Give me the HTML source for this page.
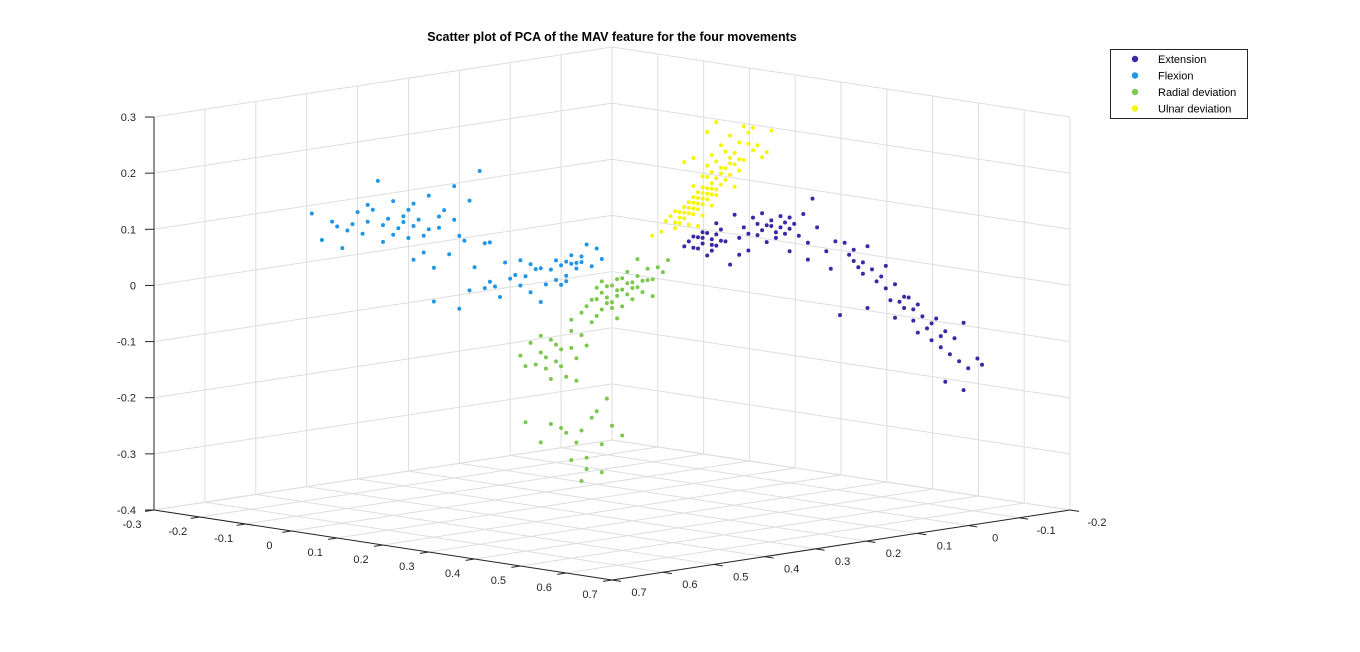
<!DOCTYPE html>
<html><head><meta charset="utf-8">
<style>
html,body{margin:0;padding:0;background:#fff;}
svg{display:block;font-family:"Liberation Sans",Arial,sans-serif;}
</style></head>
<body>
<svg id="chart" width="1360" height="652" viewBox="0 0 1360 652" xmlns="http://www.w3.org/2000/svg">
<rect width="1360" height="652" fill="#fff"/>
<text x="612" y="41" text-anchor="middle" font-size="12.5" font-weight="bold" fill="#000">Scatter plot of PCA of the MAV feature for the four movements</text>
<g id="grid"></g>
<g id="axes"></g>
<g id="points"></g>
<g>
<rect x="1110.5" y="49.5" width="137" height="69" fill="#fff" stroke="#262626" stroke-width="1"/>
<g><circle cx="1135" cy="59" r="3.2" fill="#3E26A8"/><text x="1158" y="63" font-size="11" fill="#000">Extension</text></g>
<g><circle cx="1135" cy="75.5" r="3.2" fill="#1F96E8"/><text x="1158" y="79.5" font-size="11" fill="#000">Flexion</text></g>
<g><circle cx="1135" cy="92" r="3.2" fill="#7CC84E"/><text x="1158" y="96" font-size="11" fill="#000">Radial deviation</text></g>
<g><circle cx="1135" cy="108.5" r="3.2" fill="#F5F50F"/><text x="1158" y="112.5" font-size="11" fill="#000">Ulnar deviation</text></g>
</g>
</svg>
<script>
// tick values
const aTicks = [-0.3,-0.2,-0.1,0,0.1,0.2,0.3,0.4,0.5,0.6,0.7];
const bTicks = [-0.2,-0.1,0,0.1,0.2,0.3,0.4,0.5,0.6,0.7];
const zTicks = [-0.4,-0.3,-0.2,-0.1,0,0.1,0.2,0.3];
const aTickLabels = ["-0.3","-0.2","-0.1","0","0.1","0.2","0.3","0.4","0.5","0.6","0.7"];
const bTickLabels = ["-0.2","-0.1","0","0.1","0.2","0.3","0.4","0.5","0.6","0.7"];
const zTickLabels = ["-0.4","-0.3","-0.2","-0.1","0","0.1","0.2","0.3"];
const seriesNames = ["Extension","Flexion","Radial deviation","Ulnar deviation"];

// data points: [pc1, pc2, pc3]
const extensionPoints = [
[0.08,0,0.02],[0.09,0,0.03],[0.10,0,0.02],[0.11,0,0.04],[0.12,0,0.03],[0.13,0,0.01],[0.14,0,0.04],[0.15,0,0.07],[0.15,0,0.03],[0.16,0,0.06],
[0.18,0,0.00],[0.19,0,0.09],[0.20,0,0.05],[0.21,0,0.07],[0.22,0,0.03],[0.23,0,0.09],[0.24,0,0.06],[0.25,0,0.10],[0.26,0,0.05],[0.27,0,0.08],
[0.29,0,0.10],[0.30,0,0.07],[0.31,0,0.04],[0.32,0,0.09],[0.33,0,0.07],[0.34,0,0.11],[0.35,0,0.03],[0.36,0,0.14],[0.37,0,0.09],[0.39,0,0.05],
[0.40,0,0.02],[0.41,0,0.07],[0.42,0,-0.06],[0.43,0,0.07],[0.44,0,0.05],[0.45,0,0.06],[0.46,0,0.03],[0.47,0,0.04],[0.48,0,0.07],[0.50,0,0.01],
[0.51,0,0.02],[0.52,0,0.00],[0.53,0,-0.02],[0.54,0,0.01],[0.55,0,-0.02],[0.56,0,-0.03],[0.57,0,-0.01],[0.58,0,-0.05],[0.59,0,-0.02],[0.61,0,-0.06],
[0.62,0,-0.08],[0.63,0,-0.04],[0.64,0,-0.09],[0.65,0,-0.06],[0.66,0,-0.10],[0.67,0,-0.07],[0.68,0,-0.11],[0.69,0,-0.04],[0.70,0,-0.12],[0.72,0,-0.10],
[0.73,0,-0.11],[0.65,0,-0.15],[0.69,0,-0.16],[0.52,0,0.04],[0.48,0,-0.04],[0.54,0,-0.05],[0.59,0,-0.07],[0.62,0,-0.05],
[0.10,0,0.04],[0.12,0,0.05],[0.14,0,0.02],[0.17,0,0.04],[0.20,0,0.02],[0.22,0,0.06],[0.25,0,0.07],[0.28,0,0.06],[0.31,0,0.08],[0.35,0,0.06],
[0.12,0,0.04],[0.13,0,0.05],[0.14,0,0.03],[0.15,0,0.05],[0.16,0,0.04],[0.11,0,0.02],[0.26,0,0.08],[0.27,0,0.09],[0.28,0,0.07],[0.29,0,0.08],
[0.30,0,0.09],[0.31,0,0.10],[0.24,0,0.08],[0.45,0,0.04],[0.47,0,0.02],[0.49,0,0.03],[0.56,0,-0.01],[0.58,0,-0.03],[0.60,0,-0.04],[0.64,0,-0.07]
];
const flexionPoints = [
[0,0.66,0.16],[0,0.64,0.11],[0,0.62,0.14],[0,0.60,0.09],[0,0.59,0.12],[0,0.57,0.15],[0,0.56,0.11],[0,0.55,0.13],[0,0.54,0.15],[0,0.53,0.20],
[0,0.52,0.09],[0,0.51,0.13],[0,0.50,0.16],[0,0.49,0.11],[0,0.48,0.13],[0,0.47,0.09],[0,0.46,0.05],[0,0.46,0.15],[0,0.45,0.12],[0,0.44,0.06],
[0,0.43,0.16],[0,0.42,0.03],[0,0.41,0.10],[0,0.40,0.13],[0,0.39,0.05],[0,0.38,0.17],[0,0.37,0.08],[0,0.36,0.07],[0,0.35,0.14],[0,0.34,0.02],
[0,0.33,0.19],[0,0.32,0.06],[0,0.31,0.06],[0,0.42,-0.03],[0,0.37,-0.05],[0,0.35,-0.02],[0,0.32,-0.02],[0,0.30,-0.02],[0,0.28,0.02],[0,0.27,-0.01],
[0,0.25,0.02],[0,0.24,-0.01],[0,0.23,-0.04],[0,0.21,0.00],[0,0.20,-0.03],[0,0.18,0.01],[0,0.17,-0.035],[0,0.16,-0.02],[0,0.15,0.015],[0,0.14,-0.01],
[0,0.13,0.00],[0,0.12,0.03],[0,0.11,-0.01],[0,0.09,0.00],[0,0.21,-0.06],[0,0.29,-0.04],[0,0.18,-0.025],[0,0.16,-0.03],[0,0.19,-0.005],[0,0.26,-0.005],
[0,0.31,-0.01],[0,0.10,0.02],[0,0.25,-0.025],[0,0.58,0.13],[0,0.52,0.12],[0,0.47,0.14],[0,0.43,0.10],[0,0.38,0.11],[0,0.44,0.09],[0,0.50,0.10],
[0,0.14,0.00],[0,0.15,0.00],[0,0.16,0.005],[0,0.17,0.00],[0,0.13,0.01],[0,0.22,0.00],[0,0.23,0.01],[0,0.48,0.12],[0,0.46,0.11],[0,0.41,0.12],
[0,0.55,0.16],[0,0.61,0.13]
];
const radialPoints = [
[0,0.11,-0.07],[0,0.10,-0.05],[0,0.09,-0.06],[0,0.08,-0.05],[0,0.07,-0.08],[0,0.06,-0.06],[0,0.05,-0.04],[0,0.04,-0.07],[0,0.03,-0.05],[0,0.02,-0.04],
[0,0.01,-0.07],[0,0.00,-0.03],[0,-0.01,-0.05],[0,-0.02,-0.03],[0,-0.03,-0.04],[0,-0.04,-0.02],[0,0.07,-0.09],[0,0.05,-0.09],[0,0.09,-0.09],[0,0.12,-0.08],
[0,0.03,-0.08],[0,0.01,-0.05],[0,-0.01,-0.08],[0,0.09,-0.04],[0,0.06,-0.11],[0,0.10,-0.10],[0,0.02,-0.01],[0,0.04,-0.03],[0,0.13,-0.09],[0,0.15,-0.10],
[0,0.11,-0.11],[0,0.06,-0.07],[0,0.08,-0.07],[0,0.04,-0.05],
[0,0.25,-0.15],[0,0.23,-0.13],[0,0.22,-0.17],[0,0.21,-0.15],[0,0.20,-0.18],[0,0.19,-0.13],[0,0.18,-0.17],[0,0.17,-0.15],[0,0.16,-0.20],[0,0.15,-0.15],
[0,0.14,-0.17],[0,0.13,-0.13],[0,0.19,-0.20],[0,0.21,-0.12],[0,0.24,-0.17],[0,0.17,-0.18],[0,0.14,-0.21],[0,0.12,-0.15],
[0,0.24,-0.27],[0,0.21,-0.31],[0,0.19,-0.28],[0,0.16,-0.30],[0,0.14,-0.32],[0,0.13,-0.30],[0,0.12,-0.35],[0,0.11,-0.28],[0,0.09,-0.33],[0,0.08,-0.25],
[0,0.07,-0.30],[0,0.05,-0.32],[0,0.13,-0.39],[0,0.12,-0.37],[0,0.15,-0.35],[0,0.10,-0.27],[0,0.17,-0.29],[0,0.09,-0.38],
[0,0.05,-0.06],[0,0.07,-0.05],[0,0.03,-0.06],[0,0.08,-0.08],[0,0.06,-0.04],[0,0.02,-0.06],[0,0.00,-0.05],[0,0.10,-0.07],[0,0.20,-0.16],[0,0.18,-0.14],
[0,0.15,-0.12]
];
const ulnarPoints = [
[0.03,0,0.04],[0.04,0,0.06],[0.05,0,0.07],[0.06,0,0.06],[0.07,0,0.08],[0.08,0,0.07],[0.08,0,0.09],[0.09,0,0.10],[0.09,0,0.08],[0.10,0,0.11],
[0.10,0,0.13],[0.11,0,0.10],[0.12,0,0.15],[0.12,0,0.13],[0.13,0,0.17],[0.13,0,0.15],[0.14,0,0.19],[0.14,0,0.16],[0.15,0,0.12],[0.15,0,0.18],
[0.16,0,0.21],[0.16,0,0.16],[0.17,0,0.20],[0.18,0,0.18],[0.18,0,0.23],[0.19,0,0.14],[0.19,0,0.20],[0.20,0,0.22],[0.20,0,0.17],[0.21,0,0.25],
[0.21,0,0.19],[0.22,0,0.24],[0.23,0,0.21],[0.23,0,0.25],[0.24,0,0.22],[0.25,0,0.20],[0.26,0,0.21],[0.27,0,0.25],[0.13,0,0.23],[0.15,0,0.25],
[0.08,0,0.17],[0.10,0,0.18],[0.01,0,0.03],[0.12,0,0.08],[0.11,0,0.06],[0.09,0,0.08],[0.10,0,0.08],[0.12,0,0.11],[0.14,0,0.10],[0.15,0,0.13],
[0.07,0,0.06],[0.11,0,0.12],[0.13,0,0.12],[0.16,0,0.14],[0.17,0,0.15],[0.11,0,0.09],[0.14,0,0.13],[0.18,0,0.16],[0.19,0,0.18],[0.06,0,0.08],
[0.07,0,0.07],[0.08,0,0.08],[0.09,0,0.09],[0.10,0,0.09],[0.11,0,0.11],[0.12,0,0.10],[0.13,0,0.11],[0.13,0,0.13],[0.14,0,0.14],[0.15,0,0.15],
[0.16,0,0.17],[0.17,0,0.17],[0.12,0,0.12],[0.10,0,0.10],[0.14,0,0.12],[0.18,0,0.19],[0.20,0,0.19],[0.22,0,0.22],[0.09,0,0.06],[0.06,0,0.05]
];

const NS = "http://www.w3.org/2000/svg";
function px(a,b,z){
  return [612 + (a-0.7)*458 - (b-0.7)*508.9,
          580 + (a-0.7)*70 + (b-0.7)*77.8 - (z+0.4)*561.4];
}
function line(g,p,q,color,w){
  const l=document.createElementNS(NS,"line");
  l.setAttribute("x1",p[0]);l.setAttribute("y1",p[1]);l.setAttribute("x2",q[0]);l.setAttribute("y2",q[1]);
  l.setAttribute("stroke",color);l.setAttribute("stroke-width",w);
  g.appendChild(l);return l;
}
function text(g,x,y,s,anchor){
  const t=document.createElementNS(NS,"text");
  t.setAttribute("x",x);t.setAttribute("y",y);t.setAttribute("font-size","11");
  t.setAttribute("fill","#262626");t.setAttribute("text-anchor",anchor);
  t.textContent=s;g.appendChild(t);return t;
}
const A0=-0.3,A1=0.7,B0=-0.2,B1=0.7,Z0=-0.4,Z1=0.3;
const grid=document.getElementById("grid");
const GC="#dedede";
bTicks.forEach(b=>{const l=line(grid,px(A0,b,Z0),px(A0,b,Z1),GC,1);

});
zTicks.forEach(z=>{const l=line(grid,px(A0,B0,z),px(A0,B1,z),GC,1);

});
aTicks.forEach(a=>{const l=line(grid,px(a,B0,Z0),px(a,B0,Z1),GC,1);

});
zTicks.forEach(z=>{const l=line(grid,px(A0,B0,z),px(A1,B0,z),GC,1);

});
aTicks.forEach(a=>{const l=line(grid,px(a,B0,Z0),px(a,B1,Z0),GC,1);

});
bTicks.forEach(b=>{const l=line(grid,px(A0,b,Z0),px(A1,b,Z0),GC,1);

});

const axes=document.getElementById("axes");
const AC="#262626";
let ax=line(axes,px(A0,B1,Z0),px(A0,B1,Z1),AC,1);


zTicks.forEach((z,i)=>{const p=px(A0,B1,z);
const tk=line(axes,[p[0]-9,p[1]],p,AC,1);


const t=text(axes,p[0]-18,p[1]+4,zTickLabels[i],"end");

});
ax=line(axes,px(A0,B1,Z0),px(A1,B1,Z0),AC,1);


aTicks.forEach((a,i)=>{const p=px(a,B1,Z0);
const tk=line(axes,p,[p[0]-9,p[1]+1.4],AC,1);


const t=text(axes,p[0]-22,p[1]+18,aTickLabels[i],"middle");

});
ax=line(axes,px(A1,B0,Z0),px(A1,B1,Z0),AC,1);


bTicks.forEach((b,i)=>{const p=px(A1,b,Z0);
const tk=line(axes,p,[p[0]+9,p[1]+1.4],AC,1);


const t=text(axes,p[0]+27,p[1]+16,bTickLabels[i],"middle");

});

const pts=document.getElementById("points");
const seriesData=[extensionPoints,flexionPoints,radialPoints,ulnarPoints];
const seriesColors=["#3E26A8","#1F96E8","#7CC84E","#F5F50F"];
const seriesKeys=["extension","flexion","radial-deviation","ulnar-deviation"];
seriesData.forEach((arr,si)=>{
  const g=document.createElementNS(NS,"g");
  
  
  arr.forEach(d=>{
    const p=px(d[0],d[1],d[2]);
    const c=document.createElementNS(NS,"circle");
    c.setAttribute("cx",p[0].toFixed(1));c.setAttribute("cy",p[1].toFixed(1));
    c.setAttribute("r","2");c.setAttribute("fill",seriesColors[si]);
    
    
    g.appendChild(c);
  });
  pts.appendChild(g);
});
</script>
</body></html>
